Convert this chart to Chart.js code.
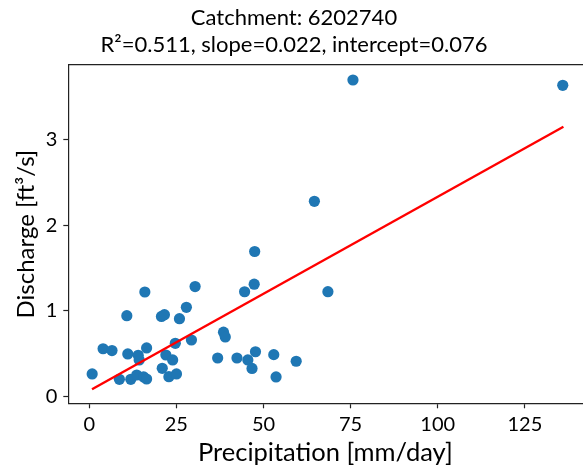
<!DOCTYPE html>
<html>
<head>
<meta charset="utf-8">
<script src="https://cdn.jsdelivr.net/npm/chart.js@4"></script>
<style>
  html, body { margin: 0; padding: 0; background: #fff; overflow: hidden; }
  #wrap { width: 588px; height: 471px; }
</style>
</head>
<body>
<div id="wrap"><canvas id="c" width="588" height="471"></canvas></div>
<script>
// Precipitation [mm/day]
const precip = [0.85, 3.98, 6.53, 8.66, 10.79, 11.07, 11.93, 13.63, 14.05, 14.34,
  15.96, 15.62, 16.47, 16.47, 20.73, 21.58, 20.95, 22.0, 22.86, 23.94,
  24.70, 25.04, 25.89, 27.88, 29.33, 30.38, 36.85, 38.53, 39.04, 42.39,
  44.58, 45.51, 47.33, 47.47, 47.70, 46.71, 52.95, 53.61, 59.38, 64.6,
  68.48, 75.67, 135.86];
// Discharge [ft³/s]
const discharge = [0.265, 0.559, 0.538, 0.203, 0.944, 0.498, 0.203, 0.253, 0.483, 0.428,
  1.220, 0.230, 0.206, 0.568, 0.935, 0.956, 0.331, 0.486, 0.233, 0.428,
  0.622, 0.265, 0.909, 1.042, 0.661, 1.284, 0.451, 0.752, 0.696, 0.451,
  1.223, 0.428, 1.311, 1.692, 0.524, 0.329, 0.490, 0.230, 0.413, 2.277,
  1.224, 3.691, 3.629];
// regression line end points
const fitX = [0.8, 136.06];
const fitY = [0.086, 3.147];
const xTicks = [0, 25, 50, 75, 100, 125];
const yTicks = [0, 1, 2, 3];
const titleLines = ['Catchment: 6202740', 'R\u00b2=0.511, slope=0.022, intercept=0.076'];
const xLabel = 'Precipitation [mm/day]';
const yLabel = 'Discharge [ft\u00b3/s]';

const FONT = 'Lato';
const scatterPts = precip.map((x, i) => ({x: x, y: discharge[i]}));
const linePts = fitX.map((x, i) => ({x: x, y: fitY[i]}));

new Chart(document.getElementById('c'), {
  type: 'scatter',
  data: {
    datasets: [
      { type: 'line', data: linePts, borderColor: '#ff0000', borderWidth: 2.4,
        pointRadius: 0, fill: false, order: 1 },
      { type: 'scatter', data: scatterPts, backgroundColor: '#1f77b4',
        borderWidth: 0, pointRadius: 5.6, pointHoverRadius: 5.6, order: 2 }
    ]
  },
  options: {
    responsive: false,
    animation: false,
    devicePixelRatio: 1,
    layout: { padding: { left: 0, right: 0, top: 0, bottom: 0 } },
    plugins: {
      legend: { display: false },
      tooltip: { enabled: false },
      title: {
        display: true,
        text: titleLines,
        color: '#000',
        font: { family: FONT, size: 22, weight: 'normal', lineHeight: 1.2 },
        padding: { top: 5, bottom: 7.2 }
      }
    },
    scales: {
      x: {
        type: 'linear',
        position: 'bottom',
        min: -6.0,
        max: 141.5,
        afterBuildTicks: (s) => { s.ticks = xTicks.map(v => ({value: v})); },
        afterFit: (s) => { s.height = 67.7; },
        grid: { display: true, drawOnChartArea: false, drawTicks: true, tickLength: 5,
                tickColor: '#222', tickWidth: 1.2 },
        border: { display: true, color: '#222', width: 1.2 },
        ticks: { color: '#000', padding: 4, maxRotation: 0,
                 font: { family: FONT, size: 20 } },
        title: { display: true, text: xLabel, color: '#000',
                 font: { family: FONT, size: 25.5, lineHeight: 1.2 },
                 padding: { top: 0, bottom: 3 } }
      },
      x2: {
        type: 'linear',
        position: 'top',
        min: 0, max: 1,
        afterFit: (s) => { s.height = 0; },
        grid: { display: true, drawOnChartArea: false, drawTicks: false },
        border: { display: true, color: '#222', width: 1.2 },
        ticks: { display: false }
      },
      y: {
        type: 'linear',
        position: 'left',
        min: -0.077,
        max: 3.866,
        afterBuildTicks: (s) => { s.ticks = yTicks.map(v => ({value: v})); },
        afterFit: (s) => { s.width = 68.3; },
        grid: { display: true, drawOnChartArea: false, drawTicks: true, tickLength: 5,
                tickColor: '#222', tickWidth: 1.2 },
        border: { display: true, color: '#222', width: 1.2 },
        ticks: { color: '#000', padding: 6,
                 font: { family: FONT, size: 20 } },
        title: { display: true, text: yLabel, color: '#000',
                 font: { family: FONT, size: 24, lineHeight: 1.2 },
                 padding: { top: 12, bottom: 0 } }
      }
    }
  }
});
</script>
</body>
</html>
